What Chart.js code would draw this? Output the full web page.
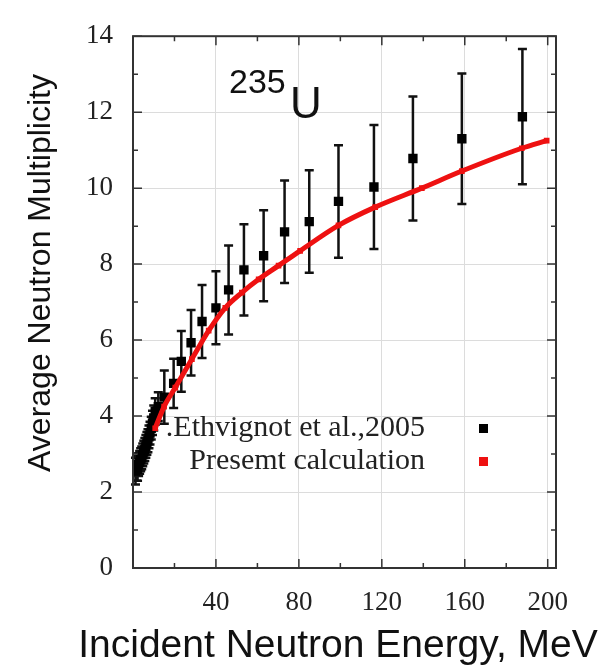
<!DOCTYPE html>
<html>
<head>
<meta charset="utf-8">
<script src="https://cdn.jsdelivr.net/npm/chart.js@4.4.0/dist/chart.umd.min.js"></script>
<style>
  html, body { margin: 0; padding: 0; background: #fff; }
  #wrap { width: 611px; height: 668px; }
</style>
</head>
<body>
<div id="wrap"><canvas id="chart" width="611" height="668"></canvas></div>
<script>
// Ethvignot et al., 2005 (black squares with error bars)
const expEnergy = [1.2, 1.7, 2.2, 2.7, 3.2, 3.7, 4.2, 4.7, 5.2, 5.7, 6.2, 6.7, 7.2, 7.7, 8.2, 8.8, 9.4, 10.0, 10.7, 12.2,
                   15.1, 19.6, 23.3, 28.0, 33.3, 40.0, 46.1, 53.5, 63.0, 73.1, 85.0, 99.1, 116.2, 135.0, 158.6, 187.8];
const expNu = [2.55, 2.62, 2.6, 2.72, 2.78, 2.85, 2.9, 2.98, 3.05, 3.12, 3.2, 3.28, 3.35, 3.45, 3.55, 3.68, 3.82, 3.95, 4.12, 4.25,
               4.5, 4.86, 5.44, 5.93, 6.49, 6.85, 7.32, 7.85, 8.22, 8.85, 9.12, 9.65, 10.03, 10.78, 11.3, 11.88];
const expErr = [0.35, 0.32, 0.3, 0.3, 0.3, 0.3, 0.3, 0.3, 0.3, 0.3, 0.3, 0.3, 0.3, 0.3, 0.3, 0.3, 0.32, 0.33, 0.35, 0.38,
                0.7, 0.65, 0.8, 0.86, 0.96, 0.96, 1.17, 1.2, 1.2, 1.35, 1.35, 1.48, 1.63, 1.63, 1.72, 1.78];

// present calculation (red curve)
const calcEnergy = [10.7, 15, 20.4, 28.4, 36.5, 44.5, 52.5, 60.6, 70.2, 80.6, 99.1, 116.8, 139.3, 158.6, 187.5, 199.5];
const calcNu = [3.68, 4.25, 4.75, 5.5, 6.25, 6.85, 7.25, 7.6, 7.96, 8.35, 9.02, 9.5, 10.0, 10.45, 11.05, 11.25];

const legendLabels = ['.Ethvignot et al.,2005', 'Presemt calculation'];
const xTitle = 'Incident Neutron Energy, MeV';
const yTitle = 'Average Neutron Multiplicity';

const frameColor = '#333';

// error bars, drawn under the markers
const errorBars = {
  id: 'errorBars',
  beforeDatasetsDraw(chart) {
    const { ctx, scales: { x, y } } = chart;
    ctx.save();
    ctx.strokeStyle = '#111';
    ctx.lineWidth = 2.5;
    expEnergy.forEach((e, i) => {
      const px = x.getPixelForValue(e);
      const top = y.getPixelForValue(expNu[i] + expErr[i]);
      const bot = y.getPixelForValue(expNu[i] - expErr[i]);
      ctx.beginPath();
      ctx.moveTo(px, top); ctx.lineTo(px, bot);
      ctx.moveTo(px - 4.5, top); ctx.lineTo(px + 4.5, top);
      ctx.moveTo(px - 4.5, bot); ctx.lineTo(px + 4.5, bot);
      ctx.stroke();
    });
    ctx.restore();
  }
};

// gnuplot-like frame with inward ticks on all sides
const frame = {
  id: 'frame',
  afterDatasetsDraw(chart) {
    const { ctx, chartArea: a, scales: { x, y } } = chart;
    ctx.save();
    ctx.strokeStyle = frameColor;
    ctx.lineWidth = 1.5;
    ctx.beginPath();
    x.ticks.forEach(t => {
      const px = x.getPixelForValue(t.value);
      const len = t.value % 40 === 0 ? 9 : 5;
      ctx.moveTo(px, a.bottom); ctx.lineTo(px, a.bottom - len);
      ctx.moveTo(px, a.top); ctx.lineTo(px, a.top + len);
    });
    y.ticks.forEach(t => {
      const py = y.getPixelForValue(t.value);
      const len = t.value % 2 === 0 ? 9 : 5;
      ctx.moveTo(a.left, py); ctx.lineTo(a.left + len, py);
      ctx.moveTo(a.right, py); ctx.lineTo(a.right - len, py);
    });
    ctx.stroke();
    ctx.lineWidth = 2;
    ctx.strokeRect(a.left, a.top, a.right - a.left, a.bottom - a.top);
    ctx.restore();
  }
};

// labels: isotope, legend, axis titles
const annotations = {
  id: 'annotations',
  afterDraw(chart) {
    const { ctx } = chart;
    ctx.save();
    ctx.fillStyle = '#111';
    ctx.textBaseline = 'alphabetic';
    ctx.textAlign = 'left';
    ctx.font = '34px "Liberation Sans", Arial, sans-serif';
    ctx.fillText('235', 229, 93);
    ctx.font = '44px "Liberation Sans", Arial, sans-serif';
    ctx.fillText('U', 290, 118);

    // legend (text right aligned, sample on the right)
    ctx.font = '30px "Liberation Serif", "Times New Roman", serif';
    ctx.textAlign = 'right';
    ctx.textBaseline = 'middle';
    const colors = ['#000', '#ee1111'];
    legendLabels.forEach((lab, i) => {
      const ly = 428 + i * 33;
      ctx.fillStyle = '#222';
      ctx.fillText(lab, 425, ly);
      ctx.fillStyle = colors[i];
      ctx.fillRect(479, ly - 4, 9, 9);
    });

    // axis titles
    ctx.fillStyle = '#111';
    ctx.font = '39px "Liberation Sans", Arial, sans-serif';
    ctx.textAlign = 'center';
    ctx.textBaseline = 'alphabetic';
    ctx.fillText(xTitle, 338, 657);

    ctx.translate(41, 273);
    ctx.rotate(-Math.PI / 2);
    ctx.font = '32px "Liberation Sans", Arial, sans-serif';
    ctx.textBaseline = 'middle';
    ctx.fillText(yTitle, 0, 0);
    ctx.restore();
  }
};

const tickFont = { family: '"Liberation Serif", "Times New Roman", serif', size: 27 };

new Chart(document.getElementById('chart'), {
  type: 'scatter',
  data: {
    datasets: [
      {
        label: legendLabels[1],
        data: calcEnergy.map((e, i) => ({ x: e, y: calcNu[i] })),
        showLine: true,
        borderColor: '#ee1111',
        backgroundColor: '#ee1111',
        borderWidth: 5,
        cubicInterpolationMode: 'monotone',
        pointStyle: 'rect',
        pointRadius: 4,
        pointBorderWidth: 0,
        order: 0
      },
      {
        label: legendLabels[0],
        data: expEnergy.map((e, i) => ({ x: e, y: expNu[i] })),
        borderColor: '#000',
        backgroundColor: '#000',
        pointStyle: 'rect',
        pointRadius: 6.6,
        pointBorderWidth: 0,
        order: 1
      }
    ]
  },
  options: {
    responsive: false,
    animation: false,
    layout: { padding: { top: 20, right: 55, left: 0, bottom: 0 } },
    plugins: { legend: { display: false }, tooltip: { enabled: false } },
    scales: {
      x: {
        type: 'linear',
        min: 0,
        max: 204,
        afterFit(scale) { scale.height = 100; },
        border: { display: false },
        grid: {
          drawTicks: false,
          color: ctx => (ctx.tick && ctx.tick.value % 40 === 0 && ctx.tick.value > 0) ? '#dcdcdc' : 'rgba(0,0,0,0)'
        },
        ticks: {
          stepSize: 20,
          includeBounds: false,
          autoSkip: false,
          maxRotation: 0,
          padding: 19,
          color: '#222',
          font: tickFont,
          callback: v => (v % 40 === 0 && v > 0) ? String(v) : ''
        }
      },
      y: {
        type: 'linear',
        min: 0,
        max: 14,
        afterFit(scale) { scale.width = 133; },
        border: { display: false },
        grid: {
          drawTicks: false,
          color: ctx => (ctx.tick && ctx.tick.value % 2 === 0 && ctx.tick.value > 0 && ctx.tick.value < 14) ? '#dcdcdc' : 'rgba(0,0,0,0)'
        },
        ticks: {
          stepSize: 1,
          autoSkip: false,
          padding: 20,
          color: '#222',
          font: tickFont,
          callback: v => v % 2 === 0 ? String(v) : ''
        }
      }
    }
  },
  plugins: [errorBars, frame, annotations]
});
</script>
</body>
</html>
